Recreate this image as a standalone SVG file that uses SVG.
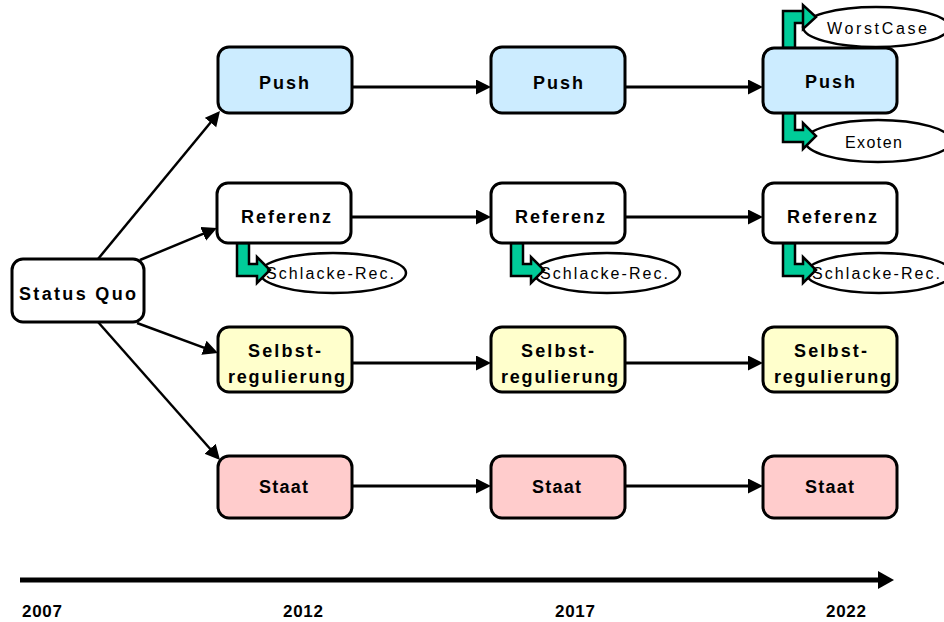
<svg xmlns="http://www.w3.org/2000/svg" width="944" height="622" viewBox="0 0 944 622">
<style>
.box{stroke:#000;stroke-width:3}
.w{fill:#fff}.b{fill:#CCECFF}.y{fill:#FFFFCC}.r{fill:#FFCCCC}
.t{font-family:"Liberation Sans",Arial,sans-serif;font-weight:bold;font-size:18px;fill:#000}
.e{font-family:"Liberation Sans",Arial,sans-serif;font-size:16px;fill:#000}
.yr{font-family:"Liberation Sans",Arial,sans-serif;font-weight:bold;font-size:17px;fill:#000}
.ell{fill:#fff;stroke:#000;stroke-width:2.5}
.g{fill:#00CC99;stroke:#000;stroke-width:2.5;stroke-linejoin:miter}
.c{stroke:#000;stroke-width:3;fill:none;marker-end:url(#ah)}
.d{stroke:#000;stroke-width:2.5;fill:none;marker-end:url(#ah)}
</style>
<defs>
<marker id="ah" markerUnits="userSpaceOnUse" markerWidth="16" markerHeight="16" refX="7" refY="7.5" orient="auto">
<path d="M0,0 L15,7.5 L0,15 z" fill="#000"/>
</marker>
</defs>
<g id="connectors">
<line class="d" x1="98" y1="259" x2="214.9" y2="117.2"/>
<line class="d" x1="140" y1="260" x2="209.6" y2="231.1"/>
<line class="d" x1="137" y1="323" x2="210.5" y2="350.2"/>
<line class="d" x1="98" y1="322" x2="214.7" y2="454"/>
<line class="c" x1="352" y1="87" x2="483" y2="87"/>
<line class="c" x1="625" y1="87" x2="755" y2="87"/>
<line class="c" x1="352" y1="217" x2="483" y2="217"/>
<line class="c" x1="625" y1="217" x2="755" y2="217"/>
<line class="c" x1="352" y1="363" x2="483" y2="363"/>
<line class="c" x1="625" y1="363" x2="755" y2="363"/>
<line class="c" x1="352" y1="486" x2="483" y2="486"/>
<line class="c" x1="625" y1="486" x2="755" y2="486"/>
</g>
<g id="status-quo">
<rect class="box w" x="12" y="259" width="132" height="63" rx="11"/>
<text class="t" x="19" y="300" textLength="117">Status Quo</text>
</g>
<g id="push-2012">
<rect class="box b" x="218" y="47" width="134" height="66" rx="11"/>
<text class="t" x="259" y="89" textLength="50">Push</text>
</g>
<g id="push-2017">
<rect class="box b" x="491" y="47" width="134" height="66" rx="11"/>
<text class="t" x="533" y="89" textLength="50">Push</text>
</g>
<g id="worstcase">
<ellipse class="ell" cx="876" cy="27" rx="73" ry="20"/>
<text class="e" x="827" y="34" textLength="100">WorstCase</text>
</g>
<g id="exoten">
<ellipse class="ell" cx="878" cy="141" rx="73" ry="21"/>
<text class="e" x="845" y="148" textLength="57">Exoten</text>
</g>
<g id="push-2022-arrows">
<polygon class="g" points="783,48 795,48 795,23 803,23 803,5 816,17 803,29 803,11 783,11"/>
<polygon class="g" points="783,113 795,113 795,130 803,130 803,123 816,136 803,149 803,142 783,142"/>
</g>
<g id="push-2022">
<rect class="box b" x="763" y="48" width="134" height="65" rx="11"/>
<text class="t" x="805" y="88" textLength="50">Push</text>
</g>
<g id="schlacke-2012">
<ellipse class="ell" cx="333" cy="273" rx="73" ry="20"/>
<polygon class="g" points="237,243 249,243 249,264 257,264 257,257 270,270 257,283 257,276 237,276"/>
<text class="e" x="266" y="279" textLength="128">Schlacke-Rec.</text>
</g>
<g id="schlacke-2017">
<ellipse class="ell" cx="607" cy="273" rx="73" ry="20"/>
<polygon class="g" points="511,243 523,243 523,264 531,264 531,257 544,270 531,283 531,276 511,276"/>
<text class="e" x="540" y="279" textLength="128">Schlacke-Rec.</text>
</g>
<g id="schlacke-2022">
<ellipse class="ell" cx="879" cy="273" rx="73" ry="20"/>
<polygon class="g" points="783,243 795,243 795,264 803,264 803,257 816,270 803,283 803,276 783,276"/>
<text class="e" x="812" y="279" textLength="128">Schlacke-Rec.</text>
</g>
<g id="referenz-2012">
<rect class="box w" x="217" y="183" width="134" height="60" rx="11"/>
<text class="t" x="241" y="223" textLength="90">Referenz</text>
</g>
<g id="referenz-2017">
<rect class="box w" x="491" y="183" width="134" height="60" rx="11"/>
<text class="t" x="515" y="223" textLength="90">Referenz</text>
</g>
<g id="referenz-2022">
<rect class="box w" x="763" y="183" width="134" height="60" rx="11"/>
<text class="t" x="787" y="223" textLength="90">Referenz</text>
</g>
<g id="selbst-2012">
<rect class="box y" x="218" y="327" width="134" height="65" rx="11"/>
<text class="t" x="248" y="357" textLength="73">Selbst-</text>
<text class="t" x="228" y="383" textLength="117">regulierung</text>
</g>
<g id="selbst-2017">
<rect class="box y" x="491" y="327" width="134" height="65" rx="11"/>
<text class="t" x="521" y="357" textLength="73">Selbst-</text>
<text class="t" x="501" y="383" textLength="117">regulierung</text>
</g>
<g id="selbst-2022">
<rect class="box y" x="763" y="327" width="134" height="65" rx="11"/>
<text class="t" x="794" y="357" textLength="73">Selbst-</text>
<text class="t" x="774" y="383" textLength="117">regulierung</text>
</g>
<g id="staat-2012">
<rect class="box r" x="218" y="456" width="134" height="62" rx="11"/>
<text class="t" x="259" y="493" textLength="49">Staat</text>
</g>
<g id="staat-2017">
<rect class="box r" x="491" y="456" width="134" height="62" rx="11"/>
<text class="t" x="532" y="493" textLength="49">Staat</text>
</g>
<g id="staat-2022">
<rect class="box r" x="763" y="456" width="134" height="62" rx="11"/>
<text class="t" x="805" y="493" textLength="49">Staat</text>
</g>
<g id="timeline">
<line x1="20" y1="580" x2="880" y2="580" stroke="#000" stroke-width="5"/>
<polygon points="878,571 894,580 878,589" fill="#000"/>
<text class="yr" x="22" y="617" textLength="40">2007</text>
<text class="yr" x="283" y="617" textLength="40">2012</text>
<text class="yr" x="555" y="617" textLength="40">2017</text>
<text class="yr" x="826" y="617" textLength="40">2022</text>
</g>
</svg>
